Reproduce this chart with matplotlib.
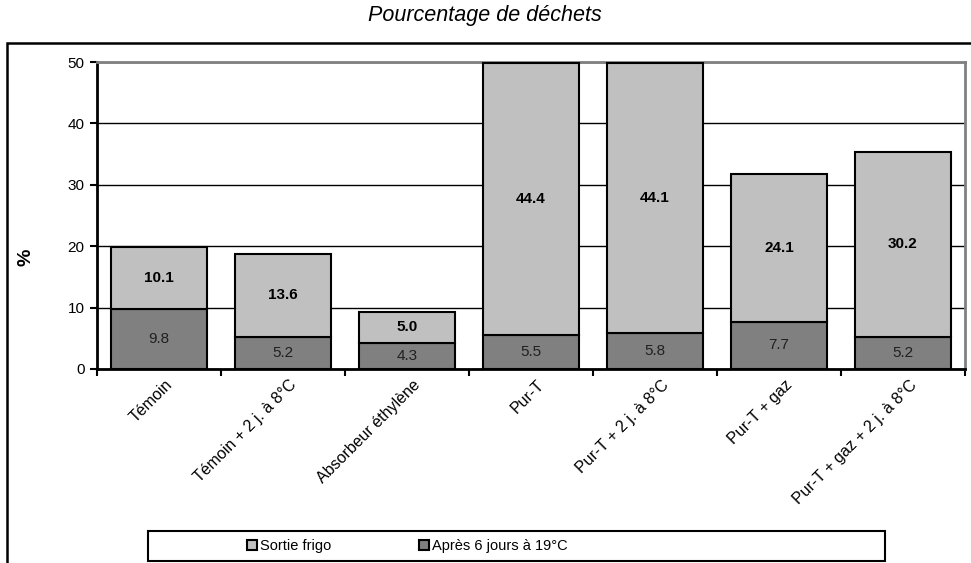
import numpy as np
import matplotlib
matplotlib.use('Agg')
import matplotlib.pyplot as plt
import matplotlib.transforms as mtransforms
from matplotlib.patches import Rectangle

plt.rcParams['font.family'] = ['Liberation Sans', 'DejaVu Sans']

categories = ["Témoin", "Témoin + 2 j. à 8°C", "Absorbeur éthylène", "Pur-T",
              "Pur-T + 2 j. à 8°C", "Pur-T + gaz", "Pur-T + gaz + 2 j. à 8°C"]
apres_6j = [9.8, 5.2, 4.3, 5.5, 5.8, 7.7, 5.2]
sortie_frigo = [10.1, 13.6, 5.0, 44.4, 44.1, 24.1, 30.2]
series_names = ["Sortie frigo", "Après 6 jours à 19°C"]
y_ticks = [0, 10, 20, 30, 40, 50]

LIGHT = '#C0C0C0'
DARK = '#808080'

fig = plt.figure(figsize=(9.71, 5.63), dpi=100)
ax = fig.add_axes([97 / 971, 1 - 369 / 563, 868 / 971, 307 / 563])

x = np.arange(len(categories))
w = 0.775
b_bot = ax.bar(x, apres_6j, w, color=DARK, edgecolor='black', lw=1.5, zorder=3)
b_top = ax.bar(x, sortie_frigo, w, bottom=apres_6j, color=LIGHT,
               edgecolor='black', lw=1.5, zorder=3)

for i in range(len(categories)):
    ax.text(x[i], apres_6j[i] / 2, f"{apres_6j[i]:.1f}", ha='center',
            va='center', fontsize=11, color='#202020', zorder=4)
    ax.text(x[i], apres_6j[i] + sortie_frigo[i] / 2, f"{sortie_frigo[i]:.1f}",
            ha='center', va='center', fontsize=11, fontweight='bold', zorder=4)

ax.set_xlim(-0.5, len(categories) - 0.5)
ax.set_ylim(0, 50)
ax.set_yticks(y_ticks)
ax.yaxis.grid(True, color='black', lw=1.0, zorder=0)
ax.set_axisbelow(True)
ax.tick_params(axis='y', labelsize=11, length=5, width=1.5, direction='out', pad=4)

# category labels at centres, tick marks at boundaries
ax.set_xticks(x)
ax.set_xticklabels(categories, rotation=45, ha='right', rotation_mode='anchor',
                   fontsize=11.5)
ax.tick_params(axis='x', which='major', length=0, pad=6)
ax.set_xticks(np.arange(len(categories) + 1) - 0.5, minor=True)
ax.tick_params(axis='x', which='minor', length=5, width=1.5, direction='out')
shift = mtransforms.ScaledTranslation(6 / 100, 0, fig.dpi_scale_trans)
for lbl in ax.get_xticklabels():
    lbl.set_transform(lbl.get_transform() + shift)

ax.spines['left'].set_linewidth(2)
ax.spines['bottom'].set_linewidth(2)
ax.spines['top'].set_color(DARK)
ax.spines['right'].set_color(DARK)
ax.spines['top'].set_linewidth(2)
ax.spines['right'].set_linewidth(2)

fig.text(485 / 971, 1 - 16 / 563, "Pourcentage de déchets", ha='center',
         va='center', fontsize=15.5, style='italic')
fig.text(26 / 971, 1 - 257 / 563, "%", rotation=90, ha='center', va='center',
         fontsize=14, fontweight='bold')

# outer chart frame (partly outside the image)
fig.patches.append(Rectangle((7 / 971, -0.05), 1.0, 0.05 + 1 - 43 / 563,
                             transform=fig.transFigure, fill=False,
                             edgecolor='black', lw=1.8, zorder=0))
# legend frame
fig.patches.append(Rectangle((148 / 971, 1 - 561 / 563), 737 / 971, 30 / 563,
                             transform=fig.transFigure, fill=False,
                             edgecolor='black', lw=1.5, zorder=1))
fig.legend([b_top, b_bot], series_names, loc='center left',
           bbox_to_anchor=(247 / 971, 1 - 546 / 563), ncol=2, frameon=False,
           fontsize=10.5, handlelength=0.7, handleheight=0.7, handletextpad=0.2,
           columnspacing=6.0, borderpad=0, borderaxespad=0)

fig.savefig('out.png', dpi=100)
